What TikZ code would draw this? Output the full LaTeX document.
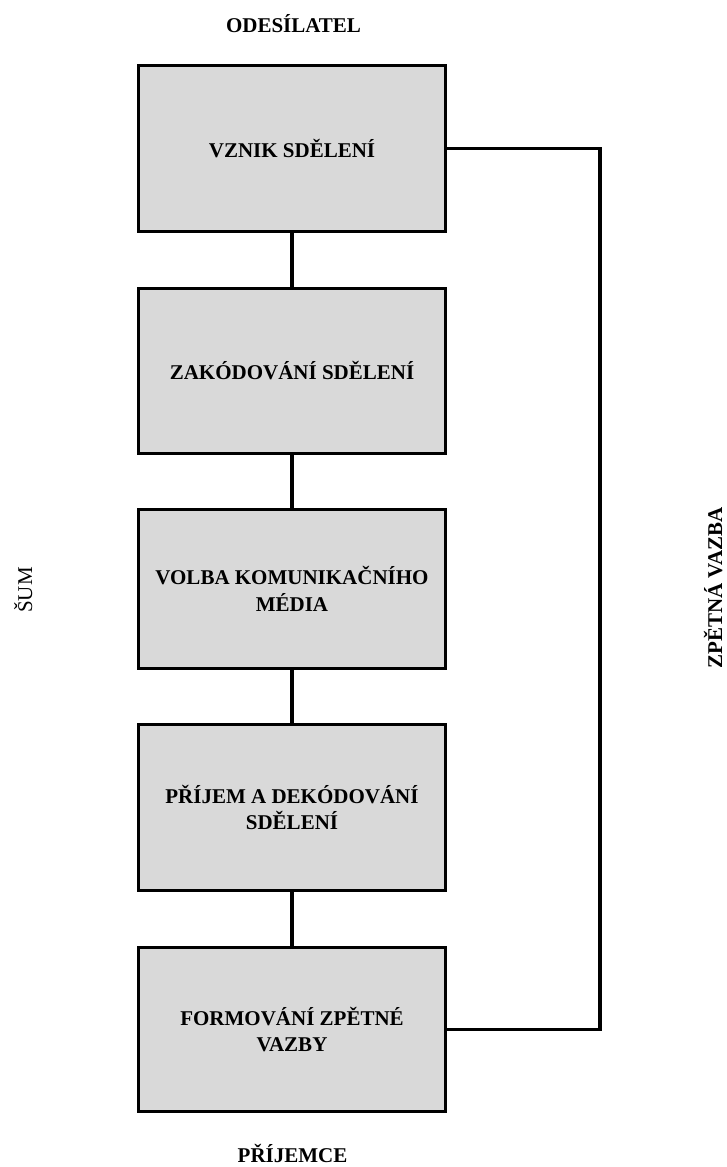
\documentclass[tikz,border=0pt]{standalone}
\usepackage{fontspec}
\setmainfont{Liberation Serif}
\definecolor{boxgray}{HTML}{D9D9D9}
\begin{document}
\begin{tikzpicture}[x=1pt,y=-1pt,
  stage/.style={draw=black,fill=boxgray,line width=3.5pt,minimum width=307pt,
    align=center,inner sep=0pt,font=\fontsize{21}{26.5}\selectfont\bfseries},
  link/.style={draw=black,line width=3.5pt,line join=miter},
  lbl/.style={inner sep=0pt,font=\fontsize{21}{26.5}\selectfont\bfseries}]
\useasboundingbox (0,0) rectangle (726,1167);
% process stages
\node[stage,minimum height=166pt] (b1) at (292,148.5) {VZNIK SDĚLENÍ};
\node[stage,minimum height=165pt] (b2) at (292,371) {ZAKÓDOVÁNÍ SDĚLENÍ};
\node[stage,minimum height=159pt] (b3) at (292,589) {VOLBA KOMUNIKAČNÍHO\\MÉDIA};
\node[stage,minimum height=166pt] (b4) at (292,807.5) {PŘÍJEM A DEKÓDOVÁNÍ\\SDĚLENÍ};
\node[stage,minimum height=164pt] (b5) at (292,1029.5) {FORMOVÁNÍ ZPĚTNÉ\\VAZBY};
% links between stages
\draw[link] (b1) -- (b2);
\draw[link] (b2) -- (b3);
\draw[link] (b3) -- (b4);
\draw[link] (b4) -- (b5);
% feedback loop
\coordinate (fb) at (600,148.5);
\draw[link] (b1.east) -- (fb) |- (b5.east);
% labels
\node[lbl,anchor=base] (snd) at (293.5,32) {ODESÍLATEL};
\node[lbl,anchor=base] (rcv) at (292.5,1162) {PŘÍJEMCE};
\node[lbl,font=\fontsize{21}{26.5}\selectfont,anchor=base,rotate=90] (noise) at (32,590) {ŠUM};
\node[lbl,anchor=base,rotate=90] (fbl) at (722,588) {ZPĚTNÁ VAZBA};
\end{tikzpicture}
\end{document}
